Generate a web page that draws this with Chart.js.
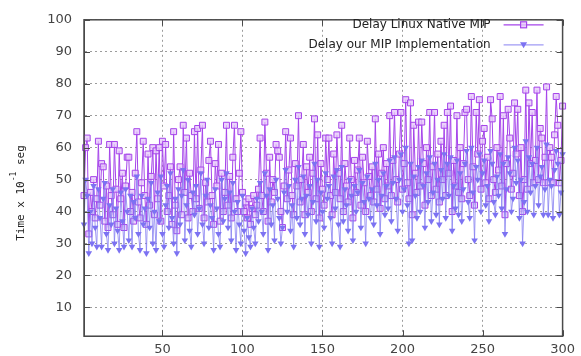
<!DOCTYPE html>
<html>
<head>
<meta charset="utf-8">
<script src="https://cdn.jsdelivr.net/npm/chart.js@4.4.1/dist/chart.umd.min.js"></script>
<style>
    html, body { margin: 0; padding: 0; background: #fff; }
    #wrap { width: 581px; height: 356px; position: relative; }
</style>
</head>
<body>
<div id="wrap"><canvas id="delayChart"></canvas></div>
<script>
/* ── delay chart: Linux native MIP vs our MIP implementation ───── */

// ── Data (one value per run 1..300) ──────────────────────────────
const SERIES_NAMES = ['Delay Linux Native MIP', 'Delay our MIP Implementation'];

const nativeDelay = [
    45, 60, 63, 33, 46, 40, 50, 38, 44, 62,
    42, 55, 54, 37, 48, 35, 61, 45, 39, 61,
    47, 36, 59, 44, 52, 35, 48, 57, 57, 40,
    46, 37, 52, 65, 43, 38, 49, 62, 45, 36,
    58, 42, 51, 60, 39, 59, 44, 60, 37, 62,
    48, 61, 40, 45, 54, 36, 65, 42, 34, 50,
    54, 39, 67, 46, 63, 38, 52, 45, 40, 65,
    44, 66, 41, 53, 67, 38, 49, 43, 56, 62,
    45, 36, 55, 48, 61, 37, 52, 40, 46, 67,
    42, 51, 38, 57, 67, 44, 40, 52, 65, 46,
    40, 43, 38, 44, 36, 41, 45, 39, 42, 47,
    63, 45, 40, 68, 52, 37, 57, 43, 50, 46,
    61, 59, 57, 40, 35, 48, 65, 44, 53, 63,
    45, 39, 55, 48, 70, 43, 50, 61, 39, 54,
    46, 57, 40, 52, 69, 44, 64, 38, 55, 47,
    42, 63, 50, 63, 45, 39, 58, 46, 64, 52,
    44, 67, 40, 55, 48, 43, 63, 50, 38, 56,
    46, 53, 63, 42, 57, 49, 40, 62, 51, 45,
    54, 43, 69, 47, 58, 41, 52, 60, 44, 55,
    48, 70, 45, 56, 71, 50, 43, 58, 71, 47,
    55, 75, 49, 44, 74, 39, 67, 52, 46, 68,
    48, 68, 55, 42, 60, 50, 71, 45, 54, 71,
    47, 58, 43, 62, 50, 67, 45, 71, 52, 73,
    40, 56, 48, 70, 46, 60, 44, 55, 71, 72,
    50, 45, 76, 54, 42, 71, 58, 75, 47, 62,
    66, 49, 57, 44, 75, 69, 50, 46, 60, 53,
    76, 48, 70, 39, 55, 72, 63, 47, 52, 74,
    58, 72, 45, 60, 40, 50, 78, 47, 74, 55,
    71, 49, 56, 78, 50, 66, 63, 49, 57, 79,
    49, 60, 57, 49, 64, 76, 67, 49, 56, 73
];

const ourDelay = [
    36, 50, 45, 27, 40, 30, 48, 35, 29, 47,
    38, 29, 44, 49, 33, 28, 42, 36, 47, 30,
    41, 34, 28, 46, 37, 29, 47, 40, 31, 45,
    29, 43, 38, 51, 33, 28, 45, 36, 41, 27,
    44, 35, 49, 30, 40, 28, 46, 37, 51, 33,
    29, 42, 48, 35, 52, 38, 30, 44, 27, 47,
    36, 45, 53, 31, 42, 50, 34, 29, 46, 39,
    48, 33, 41, 52, 36, 30, 45, 50, 35, 42,
    38, 28, 47, 41, 33, 29, 50, 37, 44, 52,
    35, 46, 31, 49, 40, 28, 43, 36, 30, 45,
    34, 27, 38, 32, 29, 41, 35, 30, 44, 37,
    49, 40, 33, 52, 45, 28, 47, 36, 42, 31,
    50, 44, 38, 30, 35, 46, 53, 40, 48, 34,
    42, 29, 50, 38, 54, 36, 44, 51, 33, 45,
    39, 48, 30, 43, 55, 37, 50, 29, 46, 40,
    35, 52, 44, 48, 38, 30, 51, 41, 53, 36,
    29, 54, 37, 47, 42, 34, 50, 45, 31, 48,
    40, 46, 53, 35, 49, 43, 30, 51, 44, 38,
    47, 36, 55, 42, 50, 33, 45, 52, 39, 48,
    41, 56, 37, 49, 57, 44, 34, 50, 58, 40,
    47, 60, 42, 30, 55, 31, 51, 45, 38, 54,
    40, 56, 48, 35, 52, 43, 57, 37, 46, 55,
    39, 50, 36, 53, 44, 58, 38, 55, 45, 57,
    34, 48, 41, 56, 39, 52, 37, 47, 55, 59,
    43, 38, 60, 46, 31, 54, 50, 58, 40, 52,
    56, 42, 48, 37, 59, 55, 43, 39, 51, 45,
    58, 41, 55, 33, 47, 57, 52, 40, 44, 60,
    49, 56, 38, 50, 30, 43, 62, 40, 57, 46,
    55, 39, 48, 60, 42, 51, 54, 39, 47, 61,
    39, 50, 48, 38, 53, 59, 55, 39, 46, 58
];

const X_TICKS = [50, 100, 150, 200, 250, 300];
const Y_TICKS = [10, 20, 30, 40, 50, 60, 70, 80, 90, 100];

// ── Style ─────────────────────────────────────────────────────────
const TICK_FONT   = "'DejaVu Sans', sans-serif";
const TEXT_COLOR  = '#444';
const FRAME_COLOR = '#4a4a4a';
const GRID_COLOR  = '#9c9c9c';
const NATIVE_LINE = '#a544ea';
const NATIVE_FILL = 'rgba(230,200,250,0.8)';
const OUR_LINE    = 'rgba(128,122,240,0.75)';
const OUR_FILL    = '#7c72f2';

const toPoints = arr => arr.map((v, i) => ({ x: i + 1, y: v }));

// ── Plugin: gnuplot-style frame with inward ticks on all sides ───
const framePlugin = {
    id: 'frame',
    afterDatasetsDraw(chart) {
        const { ctx, chartArea: a, scales } = chart;
        ctx.save();
        ctx.strokeStyle = FRAME_COLOR;
        ctx.lineWidth = 1.5;
        ctx.strokeRect(a.left, a.top, a.right - a.left, a.bottom - a.top);
        ctx.lineWidth = 1;
        ctx.beginPath();
        Y_TICKS.forEach(v => {
            const y = Math.round(scales.y.getPixelForValue(v)) + 0.5;
            ctx.moveTo(a.left, y);  ctx.lineTo(a.left + 6, y);
            ctx.moveTo(a.right, y); ctx.lineTo(a.right - 6, y);
        });
        X_TICKS.forEach(v => {
            const x = Math.round(scales.x.getPixelForValue(v)) + 0.5;
            ctx.moveTo(x, a.bottom); ctx.lineTo(x, a.bottom - 6);
            ctx.moveTo(x, a.top);    ctx.lineTo(x, a.top + 6);
        });
        ctx.stroke();
        ctx.restore();
    }
};

// ── Plugin: key in the top-right corner (text, then sample) ──────
const keyPlugin = {
    id: 'key',
    afterDraw(chart) {
        const { ctx, chartArea: a } = chart;
        const textRight = a.right - 72;
        const x0 = a.right - 59, x1 = a.right - 19, xm = (x0 + x1) / 2;
        const rows = [
            { label: SERIES_NAMES[0], y: a.top + 5,  line: NATIVE_LINE, style: 'rect' },
            { label: SERIES_NAMES[1], y: a.top + 25, line: OUR_LINE,    style: 'triangle' }
        ];
        ctx.save();
        ctx.font = "12px 'DejaVu Sans', sans-serif";
        ctx.textAlign = 'right';
        ctx.textBaseline = 'middle';
        rows.forEach(r => {
            ctx.fillStyle = '#222';
            ctx.fillText(r.label, textRight, r.y);
            ctx.strokeStyle = r.line;
            ctx.lineWidth = 1.2;
            ctx.beginPath(); ctx.moveTo(x0, r.y); ctx.lineTo(x1, r.y); ctx.stroke();
            if (r.style === 'rect') {
                ctx.fillStyle = NATIVE_FILL;
                ctx.fillRect(xm - 3, r.y - 3, 6, 6);
                ctx.strokeRect(xm - 3, r.y - 3, 6, 6);
            } else {
                ctx.fillStyle = OUR_FILL;
                ctx.beginPath();
                ctx.moveTo(xm - 3.5, r.y - 2.5); ctx.lineTo(xm + 3.5, r.y - 2.5); ctx.lineTo(xm, r.y + 3.5);
                ctx.closePath(); ctx.fill();
            }
        });
        ctx.restore();
    }
};

// ── Plugin: rotated y title "Time x 10^-1 seg" ───────────────────
const yTitlePlugin = {
    id: 'yTitle',
    afterDraw(chart) {
        const { ctx } = chart;
        const main = "11px 'DejaVu Sans Mono', monospace";
        const sup  = "8px 'DejaVu Sans Mono', monospace";
        ctx.save();
        ctx.translate(21, 193);
        ctx.rotate(-Math.PI / 2);
        ctx.fillStyle = '#222';
        ctx.textBaseline = 'middle';
        ctx.font = main;
        const a = 'Time x 10', b = ' seg';
        const wa = ctx.measureText(a).width, wb = ctx.measureText(b).width;
        ctx.font = sup;
        const ws = ctx.measureText('-1').width;
        let x = -(wa + ws + wb) / 2;
        ctx.font = main; ctx.fillText(a, x, 0); x += wa;
        ctx.font = sup;  ctx.fillText('-1', x, -7); x += ws;
        ctx.font = main; ctx.fillText(b, x, 0);
        ctx.restore();
    }
};

new Chart(document.getElementById('delayChart'), {
    type: 'line',
    data: {
        datasets: [{
            label: SERIES_NAMES[0],
            data: toPoints(nativeDelay),
            borderColor: NATIVE_LINE,
            borderWidth: 1,
            pointStyle: 'rect',
            pointRadius: 4.2,
            pointBorderWidth: 1,
            pointBorderColor: NATIVE_LINE,
            pointBackgroundColor: NATIVE_FILL,
            tension: 0,
            clip: false,
            order: 1
        }, {
            label: SERIES_NAMES[1],
            data: toPoints(ourDelay),
            borderColor: OUR_LINE,
            borderWidth: 1,
            pointStyle: 'triangle',
            rotation: 180,
            pointRadius: 3.8,
            pointBorderWidth: 0,
            pointBackgroundColor: OUR_FILL,
            tension: 0,
            clip: false,
            order: 0
        }]
    },
    options: {
        responsive: true,
        maintainAspectRatio: false,
        animation: false,
        layout: { padding: { top: 18, right: 15, left: 0, bottom: 0 } },
        plugins: {
            legend: { display: false },
            tooltip: { enabled: false }
        },
        scales: {
            x: {
                type: 'linear',
                min: 1,
                max: 300,
                afterBuildTicks: s => { s.ticks = X_TICKS.map(v => ({ value: v })); },
                afterFit: s => { s.height = 19; },
                grid: { color: GRID_COLOR, drawTicks: false, lineWidth: 1 },
                border: { display: true, color: FRAME_COLOR, dash: [2, 3] },
                ticks: { color: TEXT_COLOR, padding: 6, font: { family: TICK_FONT, size: 13 } }
            },
            y: {
                min: 1,
                max: 100,
                afterBuildTicks: s => { s.ticks = Y_TICKS.map(v => ({ value: v })); },
                afterFit: s => { s.width = 84; },
                grid: { color: GRID_COLOR, drawTicks: false, lineWidth: 1 },
                border: { display: true, color: FRAME_COLOR, dash: [2, 3] },
                ticks: { color: TEXT_COLOR, padding: 12, font: { family: TICK_FONT, size: 13 } }
            }
        }
    },
    plugins: [framePlugin, keyPlugin, yTitlePlugin]
});
</script>
</body>
</html>
